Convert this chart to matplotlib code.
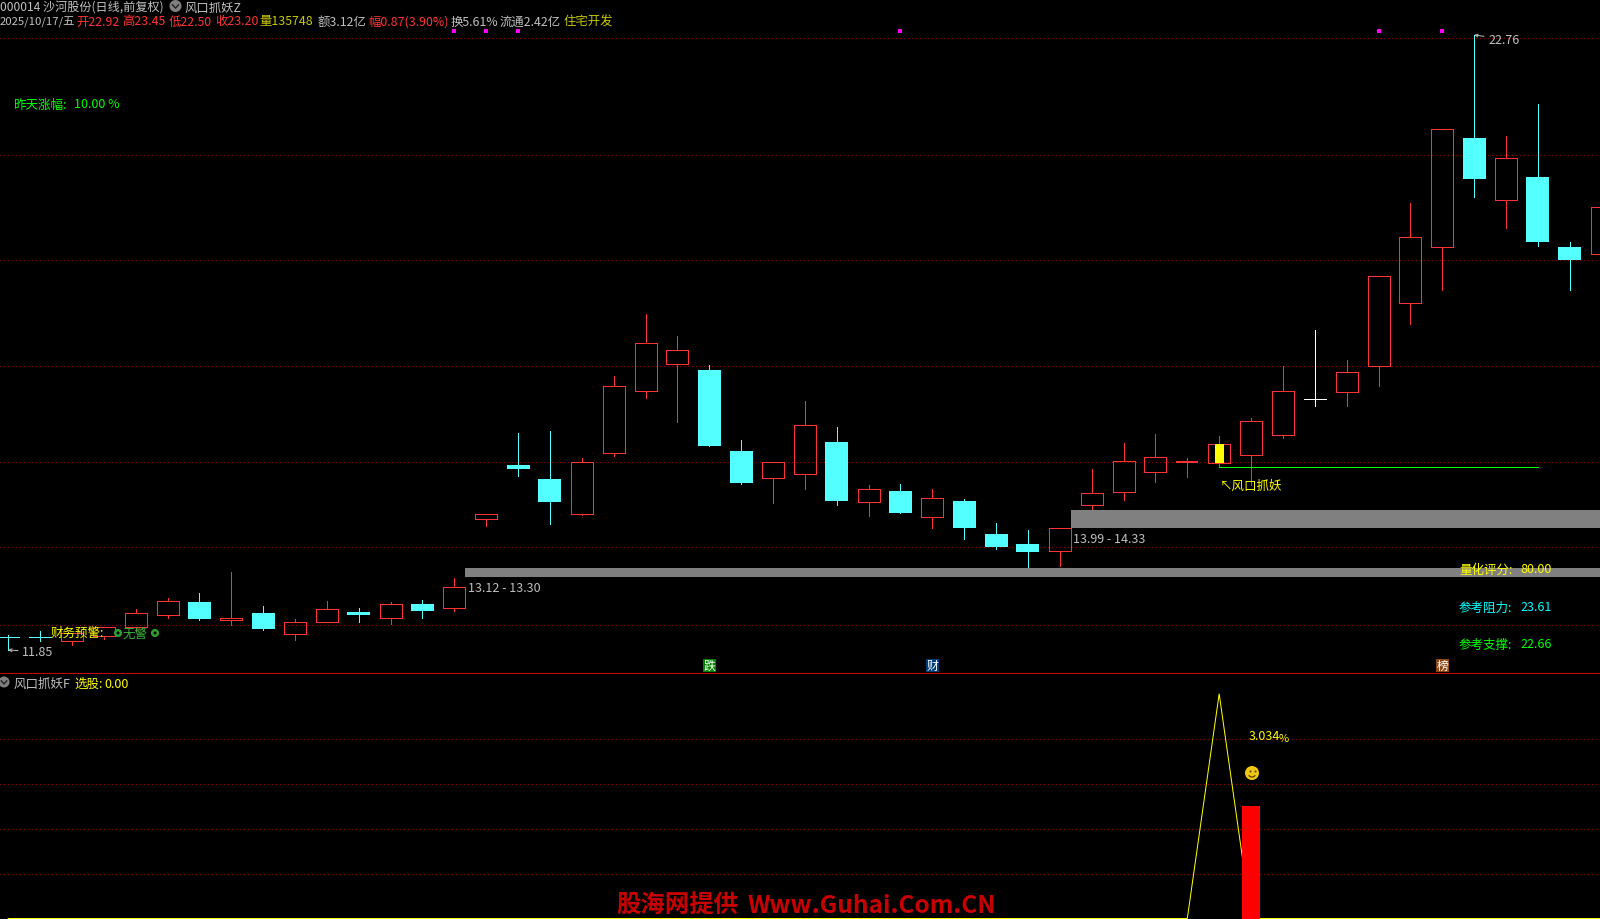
import numpy as np
import matplotlib
matplotlib.use('Agg')
import matplotlib.pyplot as plt
from matplotlib.patches import Circle, Rectangle, Arc

plt.rcParams['font.family'] = ['Noto Sans CJK SC', 'DejaVu Sans']

# ---- daily bars, index 0 .. 50
opens = [12.08, 12.08, 12.01, 12.10, 12.25, 12.47, 12.70, 12.38, 12.50, 12.13,
         12.34, 12.52, 12.42, 12.66, 12.60, 14.17, 15.13, 14.88, 14.26, 15.35,
         16.45, 16.93, 16.81, 15.38, 14.90, 14.97, 15.54, 14.48, 14.67, 14.21,
         14.49, 13.90, 13.73, 13.60, 14.42, 14.65, 15.01, 15.19, 15.17, 15.31,
         15.67, 16.31, 16.43, 16.89, 18.01, 19.00, 20.93, 19.84, 20.24, 19.00,
         18.88]
closes = [12.08, 12.08, 12.15, 12.25, 12.50, 12.71, 12.40, 12.42, 12.23, 12.34,
          12.57, 12.47, 12.67, 12.54, 12.96, 14.27, 15.06, 14.47, 15.19, 16.54,
          17.29, 17.18, 15.46, 14.81, 15.19, 15.85, 14.49, 14.70, 14.28, 14.54,
          14.01, 13.67, 13.58, 14.01, 14.64, 15.21, 15.27, 15.19, 15.51, 15.92,
          16.44, 16.31, 16.79, 18.48, 19.17, 21.10, 20.20, 20.57, 19.09, 18.77,
          19.70]
highs = [12.11, 12.18, 12.15, 12.25, 12.57, 12.78, 12.86, 13.24, 12.63, 12.40,
         12.71, 12.59, 12.70, 12.73, 13.12, 14.27, 15.70, 15.73, 15.25, 16.71,
         17.81, 17.42, 16.90, 15.57, 15.19, 16.26, 15.80, 14.77, 14.79, 14.70,
         14.52, 14.10, 13.97, 14.01, 15.06, 15.52, 15.68, 15.25, 15.64, 15.96,
         16.89, 17.52, 16.99, 18.48, 19.78, 21.10, 22.76, 20.97, 21.54, 19.09,
         19.70]
lows = [11.85, 12.01, 11.93, 12.04, 12.19, 12.41, 12.38, 12.30, 12.20, 12.03,
        12.34, 12.35, 12.31, 12.42, 12.54, 14.05, 14.93, 14.08, 14.24, 15.30,
        16.32, 15.89, 15.46, 14.79, 14.45, 14.70, 14.42, 14.22, 14.28, 14.01,
        13.81, 13.64, 13.32, 13.34, 14.35, 14.51, 14.83, 14.91, 15.09, 14.77,
        15.61, 16.18, 16.18, 16.54, 17.63, 18.24, 19.88, 19.34, 19.01, 18.24,
        18.88]
doji_colors = {0: 'cyan', 1: 'cyan', 37: 'red', 41: 'white'}

price_grid = [22.70, 20.64, 18.76, 16.88, 15.19, 13.68, 12.30]
zone_low = [13.14, 14.01]
zone_high = [13.30, 14.33]
zone_start_bar = [14, 33]
zone_labels = ['13.12 - 13.30', '13.99 - 14.33']
marker_bars = [14, 15, 16, 28, 43, 45]
marker_price = 22.83
signal_bar = 38
signal_line_price = 15.09
signal_line_end = 48
badge_bars = [22, 29, 45]
badge_texts = ['跌', '财', '榜']
badge_colors = ['#008000', '#003C78', '#8B4513']

# ---- lower indicator panel
indicator_line = [0] * 51
indicator_line[38] = 100
indicator_bar_index = 39
indicator_bar_value = 50
indicator_grid = [20, 40, 60, 80]

RED = '#FF3232'
CYAN = '#54FFFF'
GREY = '#C0C0C0'
YEL = '#FFFF00'
GRID = '#8C0000'
W, H = 1600, 920
SPLIT = 674.3
XLIM = (-0.257, 49.95)

fig = plt.figure(figsize=(W / 100, H / 100), dpi=100, facecolor='black')
ax = fig.add_axes([0, 1 - SPLIT / H, 1, SPLIT / H], facecolor='black')
ax2 = fig.add_axes([0, 0, 1, 1 - SPLIT / H], facecolor='black')
top = fig.add_axes([0, 0, 1, 1], facecolor='none')
top.set_xlim(0, W)
top.set_ylim(H, 0)
top.set_zorder(5)
for a in (ax, ax2, top):
    a.axis('off')
ax.set_xlim(*XLIM)
ax.set_ylim(11.436, 23.399)
ax2.set_xlim(*XLIM)
ax2.set_ylim(-0.22, 109.1)

LW = 0.72
dots = (0, (1.0, 3.0))
ax.hlines(price_grid, *XLIM, color=GRID, lw=0.72, linestyles=[dots], zorder=1, antialiased=False)
ax2.hlines(indicator_grid, *XLIM, color=GRID, lw=0.72, linestyles=[dots], zorder=1, antialiased=False)

# candles
for i, (o, c, hi, lo) in enumerate(zip(opens, closes, highs, lows)):
    if i in doji_colors:
        col = {'cyan': CYAN, 'red': RED, 'white': '#FFFFFF'}[doji_colors[i]]
        ax.vlines(i, lo, hi, color=col, lw=LW, zorder=2, antialiased=False)
        ax.hlines(o, i - 0.35, i + 0.35, color=col, lw=1.44 if i == 37 else LW, zorder=2, antialiased=False)
    elif c >= o:
        ax.vlines(i, max(o, c), hi, color=RED, lw=LW, zorder=2, antialiased=False)
        ax.vlines(i, lo, min(o, c), color=RED, lw=LW, zorder=2, antialiased=False)
        ax.bar(i, c - o, bottom=o, width=0.69, facecolor='none', edgecolor=RED, lw=LW, zorder=2, antialiased=False)
    else:
        ax.vlines(i, lo, hi, color=CYAN, lw=LW, zorder=2, antialiased=False)
        ax.bar(i, o - c, bottom=c, width=0.72, color=CYAN, lw=0, zorder=2, antialiased=False)

# signal day
ax.bar(signal_bar, closes[signal_bar] - opens[signal_bar], bottom=opens[signal_bar],
       width=0.28, color=YEL, lw=0, zorder=3, antialiased=False)
ax.hlines(signal_line_price, signal_bar, signal_line_end, color='#00FF00', lw=LW, zorder=3, antialiased=False)

# support zones
for s, lo, hi in zip(zone_start_bar, zone_low, zone_high):
    ax.add_patch(Rectangle((s + 0.35, lo), XLIM[1] - s, hi - lo, color='#808080', lw=0, zorder=3, antialiased=False))

ax.scatter(marker_bars, [marker_price] * len(marker_bars), marker='s', s=6,
           color='#FF00FF', lw=0, zorder=4)

# lower panel
ax2.plot(range(len(indicator_line)), indicator_line, color=YEL, lw=LW, zorder=2, solid_joinstyle='miter')
ax2.bar(indicator_bar_index, indicator_bar_value + 1, bottom=-1, width=0.55, color='#FF0000', lw=0, zorder=3, antialiased=False)


def t(x, y, s, color=GREY, size=9, **kw):
    top.text(x, y + 1, s, color=color, fontsize=size, va='center', ha=kw.pop('ha', 'left'), **kw)


# header
t(0, 7, '000014 沙河股份(日线,前复权)', GREY, 8.7)
t(185, 7, '风口抓妖Z', GREY, 8.9)
t(0, 21, '2025/10/17/五', GREY, 8.2)
for x, s, c in [
    (76.7, '开22.92', RED), (122.4, '高23.45', RED),
    (168.6, '低22.50', RED), (215, '收23.20', RED), (259.5, '量135748', '#C8C800'),
    (317.5, '额3.12亿', GREY), (368.6, '幅0.87(3.90%)', RED), (451, '换5.61%', GREY),
    (500, '流通2.42亿', GREY), (564, '住宅开发', '#C8C800')]:
    t(x, 21, s, c, 8.9)
t(13.5, 104, '昨天涨幅:', '#00FF00')
t(74.5, 104, '10.00 %', '#00FF00')


def icon(cx, cy, r):
    top.add_patch(Circle((cx, cy), r, color='#808080', lw=0))
    top.plot([cx - r * .5, cx, cx + r * .5], [cy - r * .2, cy + r * .35, cy - r * .2], color='#222222', lw=1)


icon(175.5, 7, 6)
icon(4, 683, 5.5)

# price labels with arrows
ax.annotate('11.85', xy=(0, lows[0]), xytext=(14, -2), textcoords='offset pixels', color=GREY,
            fontsize=9, va='center', ha='left', zorder=6,
            arrowprops=dict(arrowstyle='->', color=GREY, lw=0.7, shrinkA=1, shrinkB=0, mutation_scale=5))
ax.annotate(f'{max(highs):.2f}', xy=(46, max(highs)), xytext=(14, -4), textcoords='offset pixels', color=GREY,
            fontsize=9, va='center', ha='left', zorder=6,
            arrowprops=dict(arrowstyle='->', color=GREY, lw=0.7, shrinkA=1, shrinkB=0, mutation_scale=5))
t(467.6, 587.7, zone_labels[0])
t(1072.7, 538.3, zone_labels[1])

t(50.2, 632.7, '财务预警:', YEL)
t(123, 633, '无警', '#3CB43C')
for cx in (118, 155):
    top.add_patch(Circle((cx, 634), 2.8, facecolor='none', edgecolor='#2E9E2E', lw=1.8))

t(1220, 485, '↖风口抓妖', YEL)

for y, a_, b_, c in [(569, '量化评分:', '80.00', YEL), (607, '参考阻力:', '23.61', '#00FFFF'),
                     (644, '参考支撑:', '22.66', '#00FF00')]:
    t(1459, y, a_, c)
    t(1520.7, y, b_, c)

# badges
for b, s, c in zip(badge_bars, badge_texts, badge_colors):
    xp = (b - XLIM[0]) / (XLIM[1] - XLIM[0]) * W
    top.add_patch(Rectangle((xp - 6.5, 660), 13, 13, color=c, lw=0))
    t(xp, 665.5, s, '#FFFFFF', 8.6, ha='center')

# separator
top.plot([0, W], [SPLIT, SPLIT], color='#D00000', lw=0.72, antialiased=False)

# lower panel text
t(13.6, 683.3, '风口抓妖F')
t(74, 683.3, '选股:', YEL)
t(104.6, 683.3, '0.00', YEL)
t(1248.7, 735.7, '3.034', YEL)
t(1279, 738, '%', YEL, 8)

# smiley
top.add_patch(Circle((1252, 774), 7, color='#F0C814', lw=0))
top.plot([1249.5, 1254.5], [772, 772], ls='none', marker='s', ms=1.3, color='#5A4000', mew=0)
top.add_patch(Arc((1252, 775), 7, 6, theta1=20, theta2=160, color='#5A4000', lw=0.9))

# watermark
t(616, 905, '股海网提供', '#C80000', 17.6, fontweight='bold')
t(748, 905, 'Www.Guhai.Com.CN', '#C80000', 17.6, fontweight='bold')

fig.savefig('out.png', dpi=100, facecolor='black')
